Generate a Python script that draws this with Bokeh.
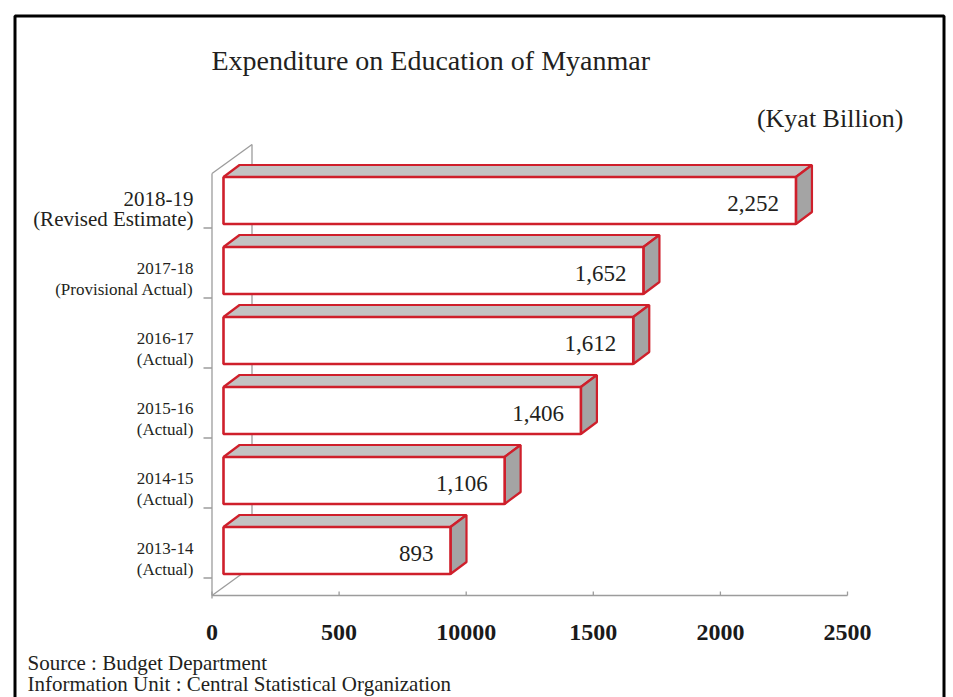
from bokeh.plotting import figure
from bokeh.models import Range1d, ColumnDataSource
from bokeh.core.properties import value
from bokeh.embed import file_html
from bokeh.resources import INLINE

# ---------------- data ----------------
years = ["2013-14", "2014-15", "2015-16", "2016-17", "2017-18", "2018-19"]
notes = ["(Actual)", "(Actual)", "(Actual)", "(Actual)", "(Provisional Actual)", "(Revised Estimate)"]
spend = [893, 1106, 1406, 1612, 1652, 2252]
spend_labels = ["893", "1,106", "1,406", "1,612", "1,652", "2,252"]
x_ticks = [0, 500, 1000, 1500, 2000, 2500]
x_tick_labels = ["0", "500", "10000", "1500", "2000", "2500"]
title_text = "Expenditure on Education of Myanmar"
unit_text = "(Kyat Billion)"
source_lines = ["Source : Budget Department", "Information Unit : Central Statistical Organization"]

# ---------------- layout helpers ----------------
W, H = 953, 697
PX = 635.5 / 2500.0     # pixels per unit of value
X0 = 211.5              # pixel of value 0
ROW = 70.0              # pixels per category row
Y0 = 573.5              # pixel of bottom of first row


def X(px):
    return (px - X0) / PX


def Y(py):
    return (Y0 - py) / ROW


FONT = value("Liberation Serif")
RED = "#cf1f2b"
GREY = "#9c9c9c"
TXT = "#231f20"

p = figure(width=W, height=H, output_backend="svg", toolbar_location=None,
           x_range=Range1d(X(0), X(W)), y_range=Range1d(Y(H), Y(0)),
           x_axis_location=None, y_axis_location=None, min_border=0,
           background_fill_color="white", border_fill_color="white")
p.outline_line_color = None
p.grid.visible = False

# outer frame
p.line([X(14.5), X(14.5), X(943.5), X(943.5)], [Y(710), Y(15.5), Y(15.5), Y(710)],
       line_color="black", line_width=3)

# 3D walls / floor
wdx, wdy = 40 / PX, 29 / ROW
floor_y, top_y = Y(595), Y(173)
p.line([0, 0], [Y(598), top_y], line_color=GREY, line_width=1.3)
p.line([0, wdx], [top_y, top_y + wdy], line_color=GREY, line_width=1.3)
p.line([wdx, wdx], [floor_y + wdy, top_y + wdy], line_color=GREY, line_width=1.3)
p.line([0, wdx], [floor_y, floor_y + wdy], line_color=GREY, line_width=1.3)
p.line([0, x_ticks[-1]], [floor_y, floor_y], line_color=GREY, line_width=1.6)
p.segment(x0=x_ticks, y0=[floor_y] * len(x_ticks), x1=x_ticks,
          y1=[floor_y + 4 / ROW] * len(x_ticks), line_color=GREY, line_width=1.3)
rows = list(range(len(years)))
p.segment(x0=[X(203)] * len(rows), y0=[r - 4 / ROW for r in rows],
          x1=[0] * len(rows), y1=[r - 4 / ROW for r in rows],
          line_color=GREY, line_width=1.3)

# bars (front face, top face, side face)
bx0 = X(223)
bdx, bdy = 16 / PX, 12 / ROW
fh = 47 / ROW
right = [bx0 + v for v in spend]
src = ColumnDataSource(dict(left=[bx0] * len(spend), right=right,
                            bottom=rows, top=[r + fh for r in rows]))
top_xs = [[bx0, bx0 + bdx, r + bdx, r] for r in right]
top_ys = [[b + fh, b + fh + bdy, b + fh + bdy, b + fh] for b in rows]
side_xs = [[r, r + bdx, r + bdx, r] for r in right]
side_ys = [[b + fh, b + fh + bdy, b + bdy, b] for b in rows]
p.patches(top_xs, top_ys, fill_color="#c3c3c3", line_color=RED, line_width=2.2)
p.patches(side_xs, side_ys, fill_color="#a4a4a4", line_color=RED, line_width=2.2)
p.quad(left="left", right="right", bottom="bottom", top="top", source=src,
       fill_color="white", line_color=RED, line_width=2.6)

# value labels
p.text(x=[r - 17 / PX for r in right], y=[b + fh / 2 - 2.5 / ROW for b in rows],
       text=spend_labels, text_font=FONT, text_font_size="23px", text_color=TXT,
       text_align="right", text_baseline="middle")

# category labels (two lines each)
lab_x = X(193)
sizes = ["17px"] * (len(years) - 1) + ["21px"]
ysrc = ColumnDataSource(dict(x=[lab_x] * len(rows), y1=[r + 25.5 / ROW for r in rows],
                             y2=[r + 5 / ROW for r in rows], years=years, notes=notes,
                             size=sizes))
p.text(x="x", y="y1", text="years", source=ysrc, text_font=FONT, text_font_size="size",
       text_color=TXT, text_align="right", text_baseline="middle")
p.text(x="x", y="y2", text="notes", source=ysrc, text_font=FONT, text_font_size="size",
       text_color=TXT, text_align="right", text_baseline="middle")

# x tick labels
p.text(x=x_ticks, y=[Y(632)] * len(x_ticks), text=x_tick_labels, text_font=FONT,
       text_font_size="24px", text_font_style="bold", text_color="#1a1a1a",
       text_align="center", text_baseline="middle")

# title and unit
p.text(x=[X(211)], y=[Y(60)], text=[title_text], text_font=FONT, text_font_size="28px",
       text_color=TXT, text_align="left", text_baseline="middle")
p.text(x=[X(903)], y=[Y(118)], text=[unit_text], text_font=FONT, text_font_size="26px",
       text_color=TXT, text_align="right", text_baseline="middle")

# source
p.text(x=[X(27)] * 2, y=[Y(662), Y(683)], text=source_lines, text_font=FONT,
       text_font_size="21px", text_color=TXT, text_align="left", text_baseline="middle")

open("out.html", "w").write(file_html(p, INLINE))
